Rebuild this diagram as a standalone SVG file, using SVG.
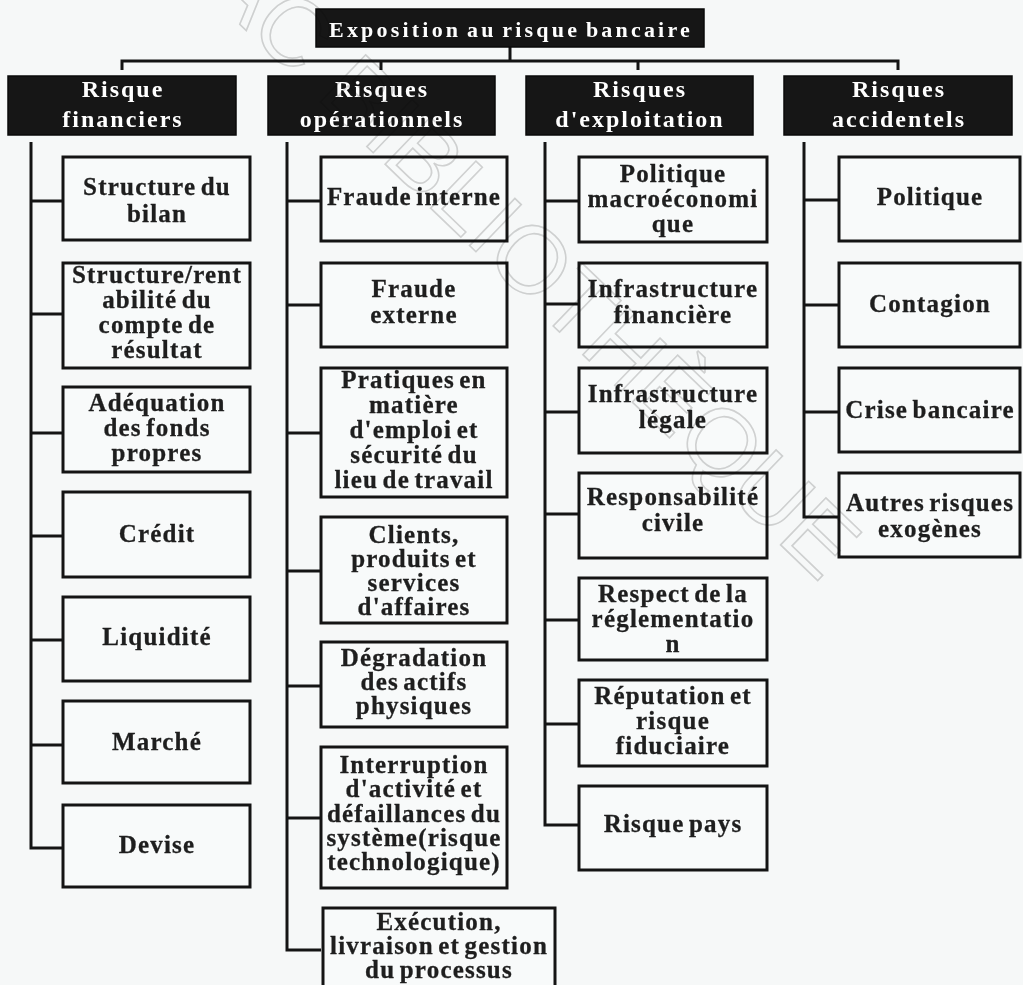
<svg xmlns="http://www.w3.org/2000/svg" width="1023" height="985" viewBox="0 0 1023 985">
  <style>
    .bg { fill: #f6f8f8; }
    .wire { fill: none; stroke: #141414; stroke-width: 3; }
    .dark rect { fill: #161616; stroke: #0a0a0a; stroke-width: 1.5; }
    .dark text { fill: #ffffff; font-family: "Liberation Serif", "Times New Roman", serif; font-weight: bold; font-size: 24px; letter-spacing: 2px; word-spacing: -3px; text-anchor: middle; }
    #title text { font-size: 22px; letter-spacing: 3.2px; word-spacing: -3px; }
    .leaf rect { fill: #f8fafa; stroke: #141414; stroke-width: 3; }
    .leaf text { fill: #1e1e1e; stroke: #1e1e1e; stroke-width: 0.3; font-family: "Liberation Serif", "Times New Roman", serif; font-weight: bold; font-size: 25px; letter-spacing: 1.2px; word-spacing: -3px; text-anchor: middle; }
    .stamp { fill: none; stroke: #d6d6d6; stroke-width: 1.6; font-family: "Liberation Sans", Arial, sans-serif; font-size: 95px; mix-blend-mode: multiply; }
  </style>

  <rect class="bg" x="0" y="0" width="1023" height="985"/>

  <!-- connectors -->
  <g id="connectors">
    <!-- root to the four families -->
    <path class="wire" d="M510,47 V61 M122,70 V61 H898 V70 M381,61 V70 M638,61 V70"/>
    <!-- Risque financiers -->
    <path class="wire" d="M31,142 V848 H63 M31,201 H63 M31,314 H63 M31,433 H63 M31,536 H63 M31,640 H63 M31,745 H63"/>
    <!-- Risques opérationnels -->
    <path class="wire" d="M287,142 V950 H321 M287,201 H321 M287,305 H321 M287,433 H321 M287,571 H321 M287,686 H321 M287,818 H321"/>
    <!-- Risques d'exploitation -->
    <path class="wire" d="M545,142 V825 H579 M545,201 H579 M545,304 H579 M545,412 H579 M545,514 H579 M545,620 H579 M545,724 H579"/>
    <!-- Risques accidentels -->
    <path class="wire" d="M804,142 V517 H839 M804,200 H839 M804,305 H839 M804,412 H839"/>
  </g>

  <!-- root -->
  <g id="title" class="dark">
    <rect x="316" y="9" width="388" height="38"/>
    <text x="511" y="37">Exposition au risque bancaire</text>
  </g>

  <!-- risk families -->
  <g id="cat-financiers" class="dark">
    <rect x="8" y="76" width="228" height="59"/>
    <text x="123" y="97">Risque</text>
    <text x="123" y="127">financiers</text>
  </g>
  <g id="cat-operationnels" class="dark">
    <rect x="268" y="76" width="227" height="59"/>
    <text x="382" y="97">Risques</text>
    <text x="382" y="127">opérationnels</text>
  </g>
  <g id="cat-exploitation" class="dark">
    <rect x="526" y="76" width="227" height="59"/>
    <text x="640" y="97">Risques</text>
    <text x="640" y="127">d'exploitation</text>
  </g>
  <g id="cat-accidentels" class="dark">
    <rect x="784" y="76" width="228" height="59"/>
    <text x="899" y="97">Risques</text>
    <text x="899" y="127">accidentels</text>
  </g>

  <!-- Risque financiers : items -->
  <g id="f1" class="leaf"><rect x="63" y="157" width="187" height="83"/>
    <text x="157" y="195">Structure du</text><text x="157" y="222">bilan</text></g>
  <g id="f2" class="leaf"><rect x="63" y="263" width="187" height="105"/>
    <text x="157" y="283">Structure/rent</text><text x="157" y="308">abilité du</text><text x="157" y="333">compte de</text><text x="157" y="358">résultat</text></g>
  <g id="f3" class="leaf"><rect x="63" y="387" width="187" height="85"/>
    <text x="157" y="411">Adéquation</text><text x="157" y="436">des fonds</text><text x="157" y="461">propres</text></g>
  <g id="f4" class="leaf"><rect x="63" y="492" width="187" height="85"/>
    <text x="157" y="542">Crédit</text></g>
  <g id="f5" class="leaf"><rect x="63" y="597" width="187" height="84"/>
    <text x="157" y="645">Liquidité</text></g>
  <g id="f6" class="leaf"><rect x="63" y="701" width="187" height="82"/>
    <text x="157" y="750">Marché</text></g>
  <g id="f7" class="leaf"><rect x="63" y="805" width="187" height="82"/>
    <text x="157" y="853">Devise</text></g>

  <!-- Risques opérationnels : items -->
  <g id="o1" class="leaf"><rect x="321" y="157" width="186" height="84"/>
    <text x="414" y="205">Fraude interne</text></g>
  <g id="o2" class="leaf"><rect x="321" y="263" width="186" height="84"/>
    <text x="414" y="297">Fraude</text><text x="414" y="323">externe</text></g>
  <g id="o3" class="leaf"><rect x="321" y="368" width="186" height="129"/>
    <text x="414" y="388">Pratiques en</text><text x="414" y="413">matière</text><text x="414" y="438">d'emploi et</text><text x="414" y="463">sécurité du</text><text x="414" y="488">lieu de travail</text></g>
  <g id="o4" class="leaf"><rect x="321" y="517" width="186" height="106"/>
    <text x="414" y="543">Clients,</text><text x="414" y="567">produits et</text><text x="414" y="591">services</text><text x="414" y="615">d'affaires</text></g>
  <g id="o5" class="leaf"><rect x="321" y="642" width="186" height="85"/>
    <text x="414" y="666">Dégradation</text><text x="414" y="690">des actifs</text><text x="414" y="714">physiques</text></g>
  <g id="o6" class="leaf"><rect x="321" y="747" width="186" height="141"/>
    <text x="414" y="773">Interruption</text><text x="414" y="797">d'activité et</text><text x="414" y="822">défaillances du</text><text x="414" y="846">système(risque</text><text x="414" y="870">technologique)</text></g>
  <g id="o7" class="leaf"><rect x="323" y="908" width="232" height="90"/>
    <text x="439" y="930">Exécution,</text><text x="439" y="954">livraison et gestion</text><text x="439" y="978">du processus</text></g>

  <!-- Risques d'exploitation : items -->
  <g id="e1" class="leaf"><rect x="579" y="157" width="188" height="85"/>
    <text x="673" y="182">Politique</text><text x="673" y="207">macroéconomi</text><text x="673" y="232">que</text></g>
  <g id="e2" class="leaf"><rect x="579" y="263" width="188" height="84"/>
    <text x="673" y="297">Infrastructure</text><text x="673" y="323">financière</text></g>
  <g id="e3" class="leaf"><rect x="579" y="368" width="188" height="85"/>
    <text x="673" y="402">Infrastructure</text><text x="673" y="428">légale</text></g>
  <g id="e4" class="leaf"><rect x="579" y="473" width="188" height="85"/>
    <text x="673" y="505">Responsabilité</text><text x="673" y="531">civile</text></g>
  <g id="e5" class="leaf"><rect x="579" y="578" width="188" height="82"/>
    <text x="673" y="602">Respect de la</text><text x="673" y="627">réglementatio</text><text x="673" y="652">n</text></g>
  <g id="e6" class="leaf"><rect x="579" y="680" width="188" height="86"/>
    <text x="673" y="704">Réputation et</text><text x="673" y="729">risque</text><text x="673" y="754">fiduciaire</text></g>
  <g id="e7" class="leaf"><rect x="579" y="786" width="188" height="84"/>
    <text x="673" y="832">Risque pays</text></g>

  <!-- Risques accidentels : items -->
  <g id="a1" class="leaf"><rect x="839" y="157" width="181" height="84"/>
    <text x="930" y="205">Politique</text></g>
  <g id="a2" class="leaf"><rect x="839" y="263" width="181" height="84"/>
    <text x="930" y="312">Contagion</text></g>
  <g id="a3" class="leaf"><rect x="839" y="368" width="181" height="84"/>
    <text x="930" y="418">Crise bancaire</text></g>
  <g id="a4" class="leaf"><rect x="839" y="473" width="181" height="84"/>
    <text x="930" y="511">Autres risques</text><text x="930" y="537">exogènes</text></g>

  <!-- library stamp across the sheet -->
  <g id="stamp">
    <text class="stamp" transform="translate(98,-112) rotate(43.9)">UQAC BIBLIOTHÈQUE</text>
  </g>
</svg>
